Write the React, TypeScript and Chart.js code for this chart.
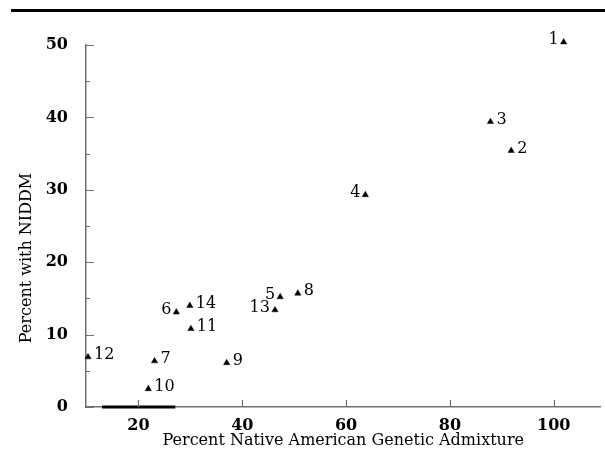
import React, { useEffect, useRef } from 'react';
import { Chart, registerables } from 'chart.js';

Chart.register(...registerables);

// ---- data ----
const pointNames = ['1', '2', '3', '4', '5', '6', '7', '8', '9', '10', '11', '12', '13', '14'];
const admixture = [101.9, 91.8, 87.8, 63.7, 47.3, 27.3, 23.1, 50.7, 37.0, 21.9, 30.1, 10.3, 46.3, 29.9];
const niddm = [50.4, 35.4, 39.4, 29.3, 15.2, 13.1, 6.35, 15.7, 6.1, 2.5, 10.8, 6.9, 13.4, 14.0];
const labelSide = ['left', 'right', 'right', 'left', 'left', 'left', 'right', 'right', 'right', 'right', 'right', 'right', 'left', 'right'];
const baseSegmentX = [13, 27.1];
const baseSegmentY = [0, 0];
const xTickValues = [20, 40, 60, 80, 100];
const yTickValues = [0, 10, 20, 30, 40, 50];
const yMinorTickValues = [5, 15, 25, 35, 45];

const SERIF = '"DejaVu Serif", "Liberation Serif", serif';
const AXIS_GRAY = '#707070';

const decorPlugin = {
  id: 'decor',
  afterDraw(chart: any) {
    const ctx = chart.ctx;
    const xs = chart.scales.x;
    const ys = chart.scales.y;
    const area = chart.chartArea;
    ctx.save();
    // top rule
    ctx.fillStyle = '#000';
    ctx.fillRect(11, 9, chart.width - 11, 3);

    // inner ticks
    ctx.strokeStyle = AXIS_GRAY;
    ctx.lineWidth = 1.2;
    ctx.beginPath();
    yTickValues.forEach((v) => {
      const y = Math.round(ys.getPixelForValue(v)) + 0.5;
      ctx.moveTo(area.left, y);
      ctx.lineTo(area.left + 8, y);
    });
    yMinorTickValues.forEach((v) => {
      const y = Math.round(ys.getPixelForValue(v)) + 0.5;
      ctx.moveTo(area.left, y);
      ctx.lineTo(area.left + 4, y);
    });
    xTickValues.forEach((v) => {
      const x = Math.round(xs.getPixelForValue(v)) + 0.5;
      ctx.moveTo(x, area.bottom);
      ctx.lineTo(x, area.bottom - 7);
    });
    ctx.stroke();

    // y title
    ctx.fillStyle = '#000';
    ctx.font = `16px ${SERIF}`;
    ctx.textAlign = 'center';
    ctx.textBaseline = 'middle';
    ctx.translate(27, 258);
    ctx.rotate(-Math.PI / 2);
    ctx.fillText('Percent with NIDDM', 0, 0);
    ctx.restore();

    // point labels
    const meta = chart.getDatasetMeta(0);
    ctx.save();
    ctx.fillStyle = '#000';
    ctx.font = `16px ${SERIF}`;
    ctx.textBaseline = 'middle';
    meta.data.forEach((el: any, i: number) => {
      const left = labelSide[i] === 'left';
      ctx.textAlign = left ? 'right' : 'left';
      ctx.fillText(pointNames[i], el.x + (left ? -5 : 6), el.y - 2);
    });
    ctx.restore();
  },
};

export default function App() {
  const ref = useRef<HTMLCanvasElement | null>(null);
  useEffect(() => {
    if (!ref.current) return;
    const chart = new Chart(ref.current, {
      type: 'scatter',
      data: {
        datasets: [
          {
            label: 'Populations',
            data: admixture.map((x, i) => ({ x, y: niddm[i] })),
            pointStyle: 'triangle',
            radius: 3.6,
            backgroundColor: '#000',
            borderColor: '#000',
            borderWidth: 0.5,
            clip: false as any,
          },
          {
            type: 'line' as any,
            label: 'base',
            data: baseSegmentX.map((x, i) => ({ x, y: baseSegmentY[i] })),
            borderColor: '#000',
            borderWidth: 3,
            pointRadius: 0,
            showLine: true,
            clip: false as any,
          },
        ],
      },
      plugins: [decorPlugin],
      options: {
        animation: false,
        responsive: false,
        layout: { padding: { top: 45, right: 0, left: 0, bottom: 0 } },
        plugins: { legend: { display: false }, tooltip: { enabled: false } },
        scales: {
          x: {
            type: 'linear',
            min: 9.9,
            max: 109,
            afterFit: (s: any) => { s.height = 54; },
            afterBuildTicks: (s: any) => { s.ticks = xTickValues.map((v) => ({ value: v })); },
            grid: { display: false, drawTicks: false },
            border: { display: true, color: AXIS_GRAY, width: 1.5 },
            ticks: { padding: 9, color: '#000', font: { family: SERIF, size: 16, weight: 'bold' } },
            title: {
              display: true,
              text: 'Percent Native American Genetic Admixture',
              color: '#000',
              font: { family: SERIF, size: 16 },
              padding: { top: 0, bottom: 11 },
            },
          },
          y: {
            type: 'linear',
            min: 0,
            max: 50,
            afterFit: (s: any) => { s.width = 86; },
            afterBuildTicks: (s: any) => { s.ticks = yTickValues.map((v) => ({ value: v })); },
            grid: { display: false, drawTicks: false },
            border: { display: true, color: AXIS_GRAY, width: 1.5 },
            ticks: { padding: 18, color: '#000', font: { family: SERIF, size: 16, weight: 'bold' } },
          },
        },
      },
    });
    return () => chart.destroy();
  }, []);
  return (
    <div style={{ position: 'absolute', left: 0, top: 0, width: 605, height: 461 }}>
      <canvas ref={ref} width={605} height={461} />
    </div>
  );
}
